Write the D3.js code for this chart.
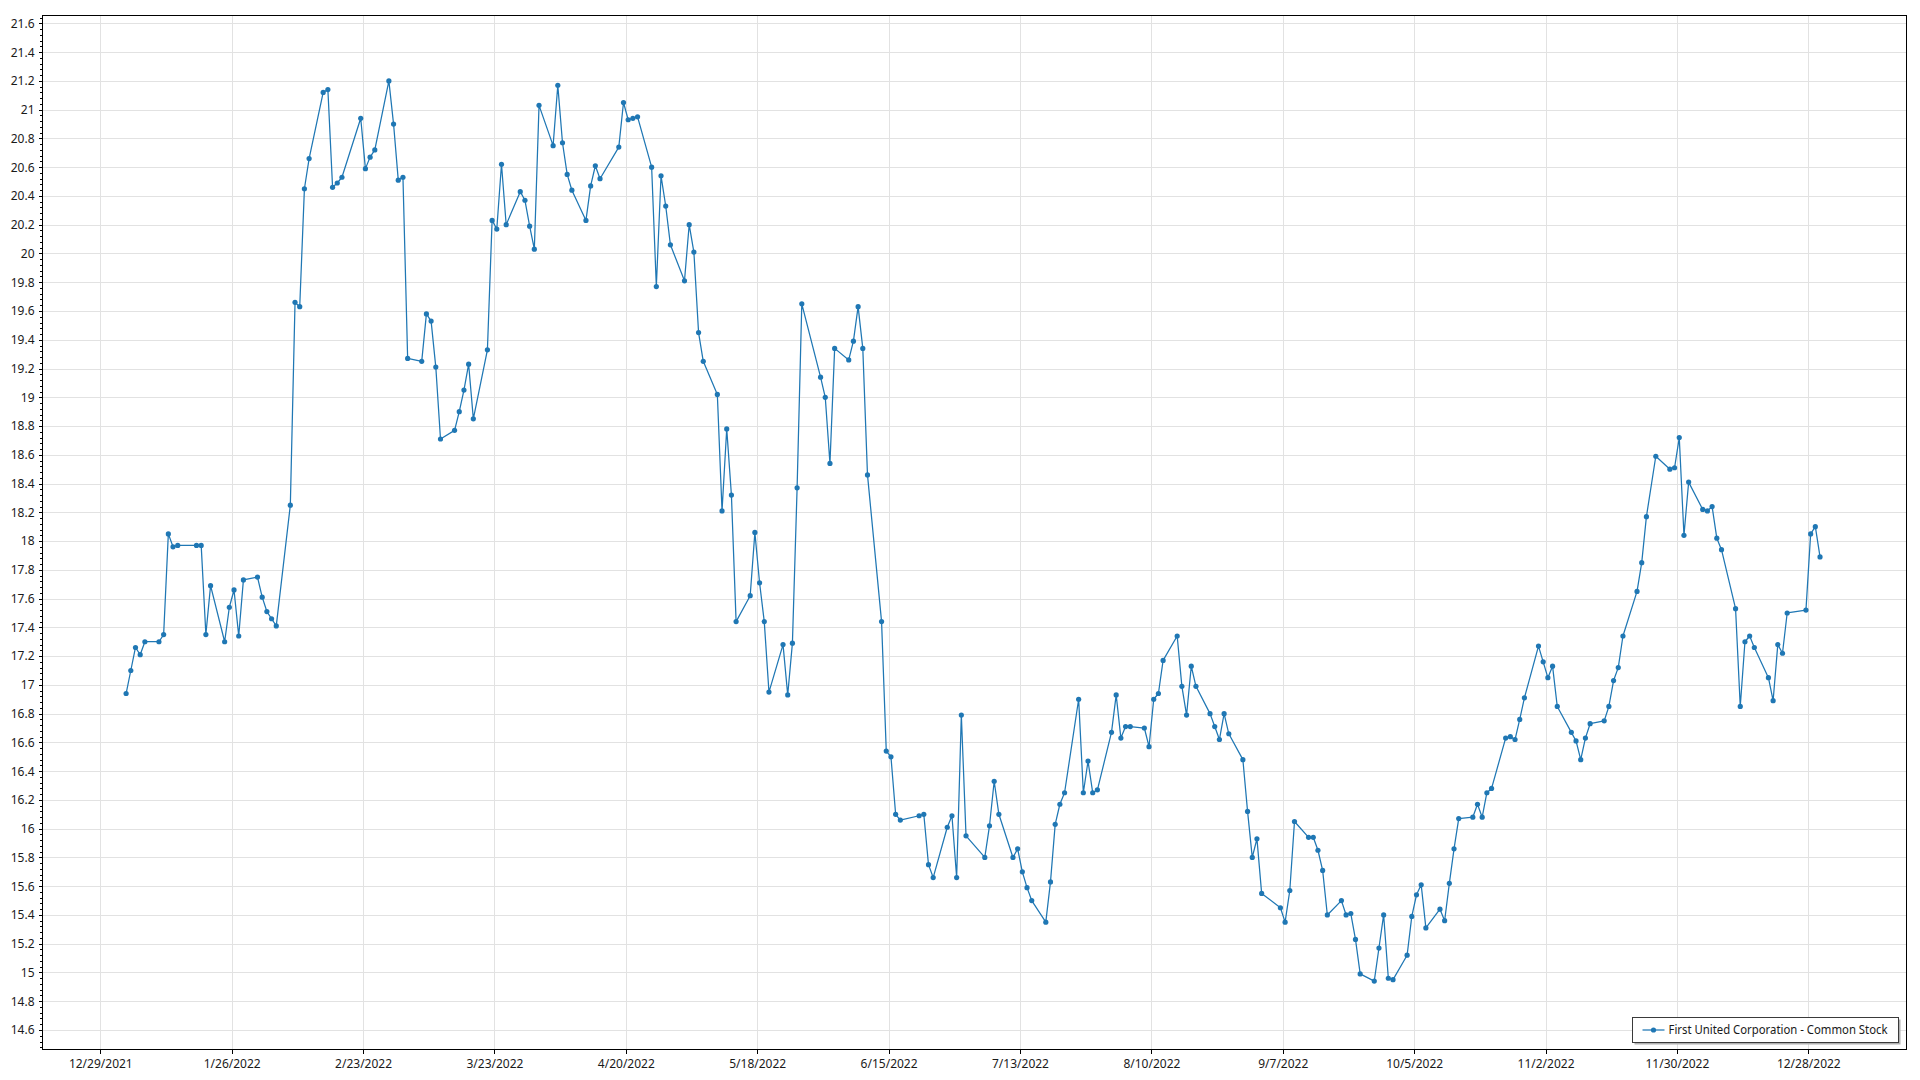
<!DOCTYPE html>
<html><head><meta charset="utf-8">
<script src="https://cdn.jsdelivr.net/npm/d3@7"></script>
<style>
body{margin:0;background:#fff;}
svg{display:block;}
text{font-family:"Noto Sans","Open Sans",sans-serif;fill:#1a1a1a;}
</style>
</head><body>
<svg id="chart" width="1920" height="1080"></svg>
<script>
const seriesName = "First United Corporation - Common Stock";

const dates = [
"2022-01-03","2022-01-04","2022-01-05","2022-01-06","2022-01-07","2022-01-10","2022-01-11","2022-01-12","2022-01-13","2022-01-14",
"2022-01-18","2022-01-19","2022-01-20","2022-01-21","2022-01-24","2022-01-25","2022-01-26","2022-01-27","2022-01-28","2022-01-31",
"2022-02-01","2022-02-02","2022-02-03","2022-02-04","2022-02-07","2022-02-08","2022-02-09","2022-02-10","2022-02-11","2022-02-14",
"2022-02-15","2022-02-16","2022-02-17","2022-02-18","2022-02-22","2022-02-23","2022-02-24","2022-02-25","2022-02-28","2022-03-01",
"2022-03-02","2022-03-03","2022-03-04","2022-03-07","2022-03-08","2022-03-09","2022-03-10","2022-03-11","2022-03-14","2022-03-15",
"2022-03-16","2022-03-17","2022-03-18","2022-03-21","2022-03-22","2022-03-23","2022-03-24","2022-03-25","2022-03-28","2022-03-29",
"2022-03-30","2022-03-31","2022-04-01","2022-04-04","2022-04-05","2022-04-06","2022-04-07","2022-04-08","2022-04-11","2022-04-12",
"2022-04-13","2022-04-14","2022-04-18","2022-04-19","2022-04-20","2022-04-21","2022-04-22","2022-04-25","2022-04-26","2022-04-27",
"2022-04-28","2022-04-29","2022-05-02","2022-05-03","2022-05-04","2022-05-05","2022-05-06","2022-05-09","2022-05-10","2022-05-11",
"2022-05-12","2022-05-13","2022-05-16","2022-05-17","2022-05-18","2022-05-19","2022-05-20","2022-05-23","2022-05-24","2022-05-25",
"2022-05-26","2022-05-27","2022-05-31","2022-06-01","2022-06-02","2022-06-03","2022-06-06","2022-06-07","2022-06-08","2022-06-09",
"2022-06-10","2022-06-13","2022-06-14","2022-06-15","2022-06-16","2022-06-17","2022-06-21","2022-06-22","2022-06-23","2022-06-24",
"2022-06-27","2022-06-28","2022-06-29","2022-06-30","2022-07-01","2022-07-05","2022-07-06","2022-07-07","2022-07-08","2022-07-11",
"2022-07-12","2022-07-13","2022-07-14","2022-07-15","2022-07-18","2022-07-19","2022-07-20","2022-07-21","2022-07-22","2022-07-25",
"2022-07-26","2022-07-27","2022-07-28","2022-07-29","2022-08-01","2022-08-02","2022-08-03","2022-08-04","2022-08-05","2022-08-08",
"2022-08-09","2022-08-10","2022-08-11","2022-08-12","2022-08-15","2022-08-16","2022-08-17","2022-08-18","2022-08-19","2022-08-22",
"2022-08-23","2022-08-24","2022-08-25","2022-08-26","2022-08-29","2022-08-30","2022-08-31","2022-09-01","2022-09-02","2022-09-06",
"2022-09-07","2022-09-08","2022-09-09","2022-09-12","2022-09-13","2022-09-14","2022-09-15","2022-09-16","2022-09-19","2022-09-20",
"2022-09-21","2022-09-22","2022-09-23","2022-09-26","2022-09-27","2022-09-28","2022-09-29","2022-09-30","2022-10-03","2022-10-04",
"2022-10-05","2022-10-06","2022-10-07","2022-10-10","2022-10-11","2022-10-12","2022-10-13","2022-10-14","2022-10-17","2022-10-18",
"2022-10-19","2022-10-20","2022-10-21","2022-10-24","2022-10-25","2022-10-26","2022-10-27","2022-10-28","2022-10-31","2022-11-01",
"2022-11-02","2022-11-03","2022-11-04","2022-11-07","2022-11-08","2022-11-09","2022-11-10","2022-11-11","2022-11-14","2022-11-15",
"2022-11-16","2022-11-17","2022-11-18","2022-11-21","2022-11-22","2022-11-23","2022-11-25","2022-11-28","2022-11-29","2022-11-30",
"2022-12-01","2022-12-02","2022-12-05","2022-12-06","2022-12-07","2022-12-08","2022-12-09","2022-12-12","2022-12-13","2022-12-14",
"2022-12-15","2022-12-16","2022-12-19","2022-12-20","2022-12-21","2022-12-22","2022-12-23","2022-12-27","2022-12-28","2022-12-29",
"2022-12-30"
];

const prices = [
16.94,17.10,17.26,17.21,17.30,17.30,17.35,18.05,17.96,17.97,
17.97,17.97,17.35,17.69,17.30,17.54,17.66,17.34,17.73,17.75,
17.61,17.51,17.46,17.41,18.25,19.66,19.63,20.45,20.66,21.12,
21.14,20.46,20.49,20.53,20.94,20.59,20.67,20.72,21.20,20.90,
20.51,20.53,19.27,19.25,19.58,19.53,19.21,18.71,18.77,18.90,
19.05,19.23,18.85,19.33,20.23,20.17,20.62,20.20,20.43,20.37,
20.19,20.03,21.03,20.75,21.17,20.77,20.55,20.44,20.23,20.47,
20.61,20.52,20.74,21.05,20.93,20.94,20.95,20.60,19.77,20.54,
20.33,20.06,19.81,20.20,20.01,19.45,19.25,19.02,18.21,18.78,
18.32,17.44,17.62,18.06,17.71,17.44,16.95,17.28,16.93,17.29,
18.37,19.65,19.14,19.00,18.54,19.34,19.26,19.39,19.63,19.34,
18.46,17.44,16.54,16.50,16.10,16.06,16.09,16.10,15.75,15.66,
16.01,16.09,15.66,16.79,15.95,15.80,16.02,16.33,16.10,15.80,
15.86,15.70,15.59,15.50,15.35,15.63,16.03,16.17,16.25,16.90,
16.25,16.47,16.25,16.27,16.67,16.93,16.63,16.71,16.71,16.70,
16.57,16.90,16.94,17.17,17.34,16.99,16.79,17.13,16.99,16.80,
16.71,16.62,16.80,16.66,16.48,16.12,15.80,15.93,15.55,15.45,
15.35,15.57,16.05,15.94,15.94,15.85,15.71,15.40,15.50,15.40,
15.41,15.23,14.99,14.94,15.17,15.40,14.96,14.95,15.12,15.39,
15.54,15.61,15.31,15.44,15.36,15.62,15.86,16.07,16.08,16.17,
16.08,16.25,16.28,16.63,16.64,16.62,16.76,16.91,17.27,17.16,
17.05,17.13,16.85,16.67,16.61,16.48,16.63,16.73,16.75,16.85,
17.03,17.12,17.34,17.65,17.85,18.17,18.59,18.50,18.51,18.72,
18.04,18.41,18.22,18.21,18.24,18.02,17.94,17.53,16.85,17.30,
17.34,17.26,17.05,16.89,17.28,17.22,17.50,17.52,18.05,18.10,
17.89
];

const xTickDates = ["2021-12-29","2022-01-26","2022-02-23","2022-03-23","2022-04-20","2022-05-18",
  "2022-06-15","2022-07-13","2022-08-10","2022-09-07","2022-10-05","2022-11-02","2022-11-30","2022-12-28"];
const yTickValues = [14.6,14.8,15,15.2,15.4,15.6,15.8,16,16.2,16.4,16.6,16.8,17,17.2,17.4,17.6,17.8,18,
  18.2,18.4,18.6,18.8,19,19.2,19.4,19.6,19.8,20,20.2,20.4,20.6,20.8,21,21.2,21.4,21.6];

const W = 1920, H = 1080;
const plot = {left: 42, right: 1906, top: 15, bottom: 1049};
const lineColor = "#1f77b4";
const gridColor = "#e2e2e2";

const parse = d3.utcParse("%Y-%m-%d");
const fmtDate = d => `${d.getUTCMonth()+1}/${d.getUTCDate()}/${d.getUTCFullYear()}`;
const HALF_DAY = 12 * 3600 * 1000;

const x = d3.scaleUtc()
  .domain([parse(xTickDates[0]), parse(xTickDates[xTickDates.length-1])])
  .range([100.3, 1808.3]);
const y = d3.scaleLinear()
  .domain([yTickValues[0], yTickValues[yTickValues.length-1]])
  .range([1030, 23.4]);

const data = dates.map((d, i) => ({t: new Date(parse(d).getTime() + HALF_DAY), v: prices[i]}));

const svg = d3.select("#chart");
svg.append("rect").attr("width", W).attr("height", H).attr("fill", "#fff");

svg.append("defs").append("clipPath").attr("id", "clip")
  .append("rect").attr("x", plot.left).attr("y", plot.top)
  .attr("width", plot.right - plot.left).attr("height", plot.bottom - plot.top);

// grid
const grid = svg.append("g").attr("shape-rendering", "crispEdges");
grid.selectAll("line.h").data(yTickValues).join("line")
  .attr("x1", plot.left).attr("x2", plot.right)
  .attr("y1", d => Math.round(y(d)) + 0.5).attr("y2", d => Math.round(y(d)) + 0.5)
  .attr("stroke", gridColor).attr("stroke-width", 1);
grid.selectAll("line.v").data(xTickDates).join("line")
  .attr("y1", plot.top).attr("y2", plot.bottom)
  .attr("x1", d => Math.round(x(parse(d))) + 0.5).attr("x2", d => Math.round(x(parse(d))) + 0.5)
  .attr("stroke", gridColor).attr("stroke-width", 1);

// series
const g = svg.append("g").attr("clip-path", "url(#clip)");
g.append("path").datum(data)
  .attr("fill", "none").attr("stroke", lineColor).attr("stroke-width", 1.25)
  .attr("stroke-linejoin", "round")
  .attr("d", d3.line().x(d => x(d.t)).y(d => y(d.v)));
g.selectAll("circle").data(data).join("circle")
  .attr("cx", d => x(d.t)).attr("cy", d => y(d.v)).attr("r", 2.6)
  .attr("fill", lineColor);

// frame
svg.append("rect").attr("x", plot.left + 0.5).attr("y", plot.top + 0.5)
  .attr("width", plot.right - plot.left).attr("height", plot.bottom - plot.top)
  .attr("fill", "none").attr("stroke", "#000").attr("stroke-width", 1)
  .attr("shape-rendering", "crispEdges");

// y axis
const yAxis = d3.axisLeft(y).tickValues(yTickValues).tickSize(4).tickSizeOuter(0)
  .tickFormat(d => d3.format("~g")(d)).tickPadding(4);
const ya = svg.append("g").attr("transform", `translate(${plot.left + 0.5},0)`).call(yAxis);
ya.select(".domain").remove();
ya.selectAll("text").attr("font-size", 12).attr("font-family", "Noto Sans, sans-serif").attr("fill", "#1a1a1a");
ya.selectAll("line").attr("shape-rendering", "crispEdges");
// minor ticks
const minor = d3.range(Math.round(y.invert(plot.bottom) * 25), Math.round(y.invert(plot.top) * 25) + 1)
  .map(k => k / 25).filter(v => Math.abs(v * 5 - Math.round(v * 5)) > 1e-6 && y(v) <= plot.bottom && y(v) >= plot.top);
svg.append("g").selectAll("line").data(minor).join("line")
  .attr("x1", plot.left - 2).attr("x2", plot.left)
  .attr("y1", d => Math.round(y(d)) + 0.5).attr("y2", d => Math.round(y(d)) + 0.5)
  .attr("stroke", "#000").attr("shape-rendering", "crispEdges");

// x axis
const xAxis = d3.axisBottom(x).tickValues(xTickDates.map(parse)).tickSize(4).tickSizeOuter(0)
  .tickFormat(fmtDate).tickPadding(6);
const xa = svg.append("g").attr("transform", `translate(0,${plot.bottom + 0.5})`).call(xAxis);
xa.select(".domain").remove();
xa.selectAll("text").attr("font-size", 12).attr("font-family", "Noto Sans, sans-serif").attr("fill", "#1a1a1a");
xa.selectAll("line").attr("shape-rendering", "crispEdges");

// legend
const lg = svg.append("g");
const lx = 1632.5, ly = 1017.5, lw = 266, lh = 25;
lg.append("rect").attr("x", lx + 2).attr("y", ly + 2).attr("width", lw).attr("height", lh).attr("fill", "#b0b0b0");
lg.append("rect").attr("x", lx).attr("y", ly).attr("width", lw).attr("height", lh)
  .attr("fill", "#fff").attr("stroke", "#3a3a3a").attr("stroke-width", 1).attr("shape-rendering", "crispEdges");
lg.append("line").attr("x1", lx + 10).attr("x2", lx + 32).attr("y1", ly + 12.5).attr("y2", ly + 12.5)
  .attr("stroke", lineColor).attr("stroke-width", 1.25);
lg.append("circle").attr("cx", lx + 21).attr("cy", ly + 12.5).attr("r", 2.6).attr("fill", lineColor);
lg.append("text").attr("x", lx + 36).attr("y", ly + 12.5).attr("dy", "0.35em")
  .attr("font-size", 12).attr("textLength", 219).attr("lengthAdjust", "spacingAndGlyphs")
  .text(seriesName);
</script>
</body></html>
